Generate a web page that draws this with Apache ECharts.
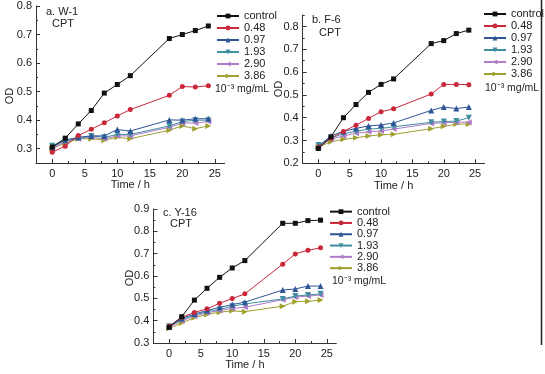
<!DOCTYPE html>
<html><head><meta charset="utf-8">
<script src="https://cdn.jsdelivr.net/npm/echarts@6/dist/echarts.min.js"></script>
<style>html,body{margin:0;padding:0;background:#fff}#c{width:545px;height:374px}</style>
</head><body><div id="c"></div>
<script>
// ---- data ----
const time = [0, 2, 4, 6, 8, 10, 12, 18, 20, 22, 24];
const seriesNames = ['control', '0.48', '0.97', '1.93', '2.90', '3.86'];

// Panel a: W-1
const aControl = [0.306, 0.337, 0.387, 0.434, 0.495, 0.525, 0.556, 0.686, 0.700, 0.714, 0.730];
const a048 =     [0.288, 0.309, 0.346, 0.368, 0.391, 0.415, 0.437, 0.487, 0.518, 0.516, 0.521];
const a097 =     [0.305, 0.330, 0.340, 0.345, 0.345, 0.367, 0.362, 0.401, 0.400, 0.405, 0.405];
const a193 =     [0.310, 0.330, 0.335, 0.345, 0.340, 0.350, 0.350, 0.380, 0.395, 0.400, 0.400];
const a290 =     [0.300, 0.325, 0.335, 0.340, 0.335, 0.345, 0.345, 0.375, 0.390, 0.390, 0.395];
const a386 =     [0.300, 0.320, 0.335, 0.335, 0.330, 0.340, 0.335, 0.365, 0.380, 0.370, 0.380];

// Panel b: F-6
const bControl = [0.265, 0.316, 0.400, 0.458, 0.511, 0.546, 0.570, 0.725, 0.738, 0.769, 0.784];
const b048 =     [0.270, 0.310, 0.340, 0.367, 0.397, 0.426, 0.439, 0.504, 0.546, 0.546, 0.545];
const b097 =     [0.275, 0.320, 0.340, 0.353, 0.364, 0.368, 0.377, 0.432, 0.447, 0.440, 0.447];
const b193 =     [0.280, 0.310, 0.330, 0.340, 0.350, 0.353, 0.360, 0.380, 0.383, 0.385, 0.400];
const b290 =     [0.275, 0.305, 0.320, 0.332, 0.338, 0.342, 0.350, 0.375, 0.378, 0.380, 0.380];
const b386 =     [0.270, 0.295, 0.305, 0.312, 0.320, 0.325, 0.327, 0.352, 0.362, 0.372, 0.372];

// Panel c: Y-16
const cControl = [0.370, 0.418, 0.492, 0.545, 0.594, 0.636, 0.669, 0.836, 0.836, 0.848, 0.850];
const c048 =     [0.375, 0.415, 0.437, 0.453, 0.478, 0.499, 0.520, 0.653, 0.699, 0.715, 0.726];
const c097 =     [0.375, 0.410, 0.430, 0.445, 0.460, 0.472, 0.483, 0.537, 0.542, 0.555, 0.555];
const c193 =     [0.375, 0.405, 0.425, 0.440, 0.450, 0.465, 0.475, 0.497, 0.510, 0.515, 0.520];
const c290 =     [0.370, 0.400, 0.420, 0.435, 0.445, 0.455, 0.460, 0.494, 0.505, 0.510, 0.515];
const c386 =     [0.365, 0.390, 0.413, 0.428, 0.438, 0.444, 0.440, 0.465, 0.485, 0.487, 0.492];

// ticks
const xTicks = [0, 5, 10, 15, 20, 25];
const xMinor = [-2.5, 2.5, 7.5, 12.5, 17.5, 22.5];
const yTicksA = [0.3, 0.4, 0.5, 0.6, 0.7, 0.8];
const yMinorA = [0.35, 0.45, 0.55, 0.65, 0.75];
const yTicksB = [0.2, 0.3, 0.4, 0.5, 0.6, 0.7, 0.8];
const yMinorB = [0.25, 0.35, 0.45, 0.55, 0.65, 0.75, 0.85];
const yTicksC = [0.3, 0.4, 0.5, 0.6, 0.7, 0.8, 0.9];
const yMinorC = [0.35, 0.45, 0.55, 0.65, 0.75, 0.85];

// ---- style ----
const FONT = 'Liberation Sans, Arial, sans-serif';
const TXT = '#222';
const AX = '#333';
const colors = ['#111111', '#c8283a', '#2f5597', '#3f8fa0', '#b07cc8', '#a0a030'];
const symbols = ['rect', 'circle', 'triangle', 'triangle', 'triangle', 'triangle'];
const rotates = [0, 0, 0, 180, 90, -90];
const sizes = [5, 5, 6, 6, 6, 6];

const panels = [
  { vals: [aControl, a048, a097, a193, a290, a386], ymin: 0.25, ymax: 0.8, yt: yTicksA, ym: yMinorA,
    grid: { left: 36, top: 6, width: 188.6, height: 157 } },
  { vals: [bControl, b048, b097, b193, b290, b386], ymin: 0.2, ymax: 0.85, yt: yTicksB, ym: yMinorB,
    grid: { left: 302.7, top: 15.1, width: 181.8, height: 148.2 } },
  { vals: [cControl, c048, c097, c193, c290, c386], ymin: 0.3, ymax: 0.9, yt: yTicksC, ym: yMinorC,
    grid: { left: 153.4, top: 209, width: 182.9, height: 134 } }
];

const grids = [], xAxes = [], yAxes = [], series = [];
panels.forEach((p, i) => {
  grids.push(Object.assign({ containLabel: false }, p.grid));
  xAxes.push({
    gridIndex: i, type: 'value', min: -2.5, max: 26.5, position: 'bottom',
    name: 'Time / h', nameLocation: 'middle', nameGap: 14,
    nameTextStyle: { color: TXT, fontSize: 11, fontFamily: FONT },
    axisLine: { show: true, onZero: false, lineStyle: { color: AX, width: 1 } },
    axisTick: { show: true, inside: true, length: 4, customValues: xTicks, lineStyle: { color: AX } },
    axisLabel: { show: true, customValues: xTicks, color: TXT, fontSize: 11, fontFamily: FONT, margin: 5 },
    splitLine: { show: false }
  });
  xAxes.push({
    gridIndex: i, type: 'value', min: -2.5, max: 26.5, position: 'bottom',
    axisLine: { show: false, onZero: false },
    axisTick: { show: true, inside: true, length: 2, customValues: xMinor, lineStyle: { color: AX } },
    axisLabel: { show: false }, splitLine: { show: false }
  });
  yAxes.push({
    gridIndex: i, type: 'value', min: p.ymin, max: p.ymax, position: 'left',
    axisLine: { show: true, onZero: false, lineStyle: { color: AX, width: 1 } },
    axisTick: { show: true, inside: true, length: 4, customValues: p.yt, lineStyle: { color: AX } },
    axisLabel: { show: true, customValues: p.yt, color: TXT, fontSize: 11, fontFamily: FONT, margin: 4,
      formatter: v => v.toFixed(1) },
    splitLine: { show: false }
  });
  yAxes.push({
    gridIndex: i, type: 'value', min: p.ymin, max: p.ymax, position: 'left',
    axisLine: { show: false, onZero: false },
    axisTick: { show: true, inside: true, length: 2, customValues: p.ym, lineStyle: { color: AX } },
    axisLabel: { show: false }, splitLine: { show: false }
  });
  p.vals.forEach((vals, k) => {
    series.push({
      type: 'line', name: seriesNames[k], xAxisIndex: 2 * i, yAxisIndex: 2 * i,
      data: time.map((t, j) => [t, vals[j]]),
      symbol: symbols[k], symbolRotate: rotates[k], symbolSize: sizes[k],
      showSymbol: true, animation: false,
      lineStyle: { color: colors[k], width: 1 },
      itemStyle: { color: colors[k] },
      z: 10 - k
    });
  });
});

const legendBase = {
  orient: 'vertical', itemWidth: 22, itemHeight: 6, itemGap: 0, padding: 0,
  textStyle: { color: TXT, fontSize: 11, fontFamily: FONT, lineHeight: 12 },
  data: seriesNames, selectedMode: false
};
const legends = [
  Object.assign({}, legendBase, { left: 216, top: 10 }),
  Object.assign({}, legendBase, { left: 483, top: 8 }),
  Object.assign({}, legendBase, { left: 329, top: 206, textStyle: Object.assign({}, legendBase.textStyle, { lineHeight: 11.3 }) })
];

function txt(x, y, s, size) {
  return { type: 'text', x: x, y: y,
    style: { text: s, fill: TXT, font: (size || 11) + 'px ' + FONT, textVerticalAlign: 'middle' } };
}
function vtxt(x, y, s) {
  return { type: 'text', x: x, y: y, rotation: Math.PI / 2,
    style: { text: s, fill: TXT, font: '11px ' + FONT, textAlign: 'center', textVerticalAlign: 'middle' } };
}

const graphic = [
  txt(46, 12, 'a. W-1'), txt(52, 24, 'CPT'),
  txt(312, 20, 'b. F-6'), txt(319, 33, 'CPT'),
  txt(163, 213, 'c. Y-16'), txt(170, 224, 'CPT'),
  txt(215, 89, '10⁻³ mg/mL', 10.5), txt(485, 88, '10⁻³ mg/mL', 10.5), txt(332, 281, '10⁻³ mg/mL', 10.5),
  vtxt(10, 96, 'OD'), vtxt(279, 89, 'OD'), vtxt(130, 278, 'OD'),
  { type: 'line', shape: { x1: 541.5, y1: 0, x2: 541.5, y2: 345 }, style: { stroke: '#222', lineWidth: 1.5 } }
];

const chart = echarts.init(document.getElementById('c'), null, { renderer: 'canvas' });
chart.setOption({
  backgroundColor: '#fff',
  animation: false,
  grid: grids, xAxis: xAxes, yAxis: yAxes, series: series,
  legend: legends, graphic: graphic
});
</script></body></html>
